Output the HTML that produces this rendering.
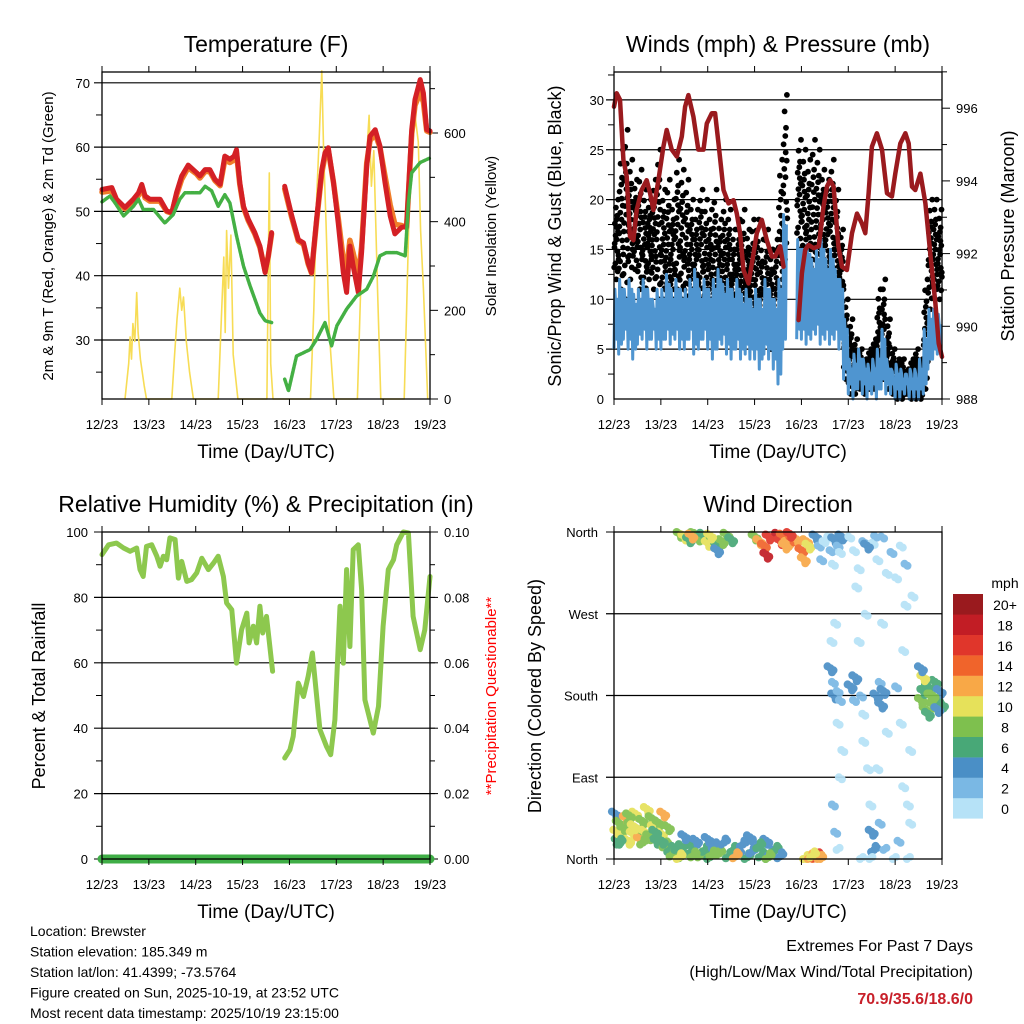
<!DOCTYPE html>
<html><head><meta charset="utf-8">
<style>
html,body{margin:0;padding:0;background:#fff;}
svg{display:block;font-family:"Liberation Sans",Arial,sans-serif;}
</style></head>
<body>
<svg id="fig" width="1024" height="1024" viewBox="0 0 1024 1024" xmlns="http://www.w3.org/2000/svg"></svg>
<script>
// ---------- DATA ----------
// Temperature panel
const tempTimes = [0,.21,.31,.49,.67,.78,.85,.92,1.02,1.24,1.38,1.49,1.59,1.7,1.84,2.02,2.09,2.2,2.3,2.41,2.52,2.62,2.73,2.82,2.87,2.94,3.02,3.12,3.26,3.37,3.48,3.55,3.62,null,3.9,4.05,4.19,4.3,4.4,4.47,4.58,4.69,4.76,4.83,4.94,5.04,5.15,5.22,5.29,5.36,5.47,5.54,5.65,5.72,5.83,5.93,6.04,6.15,6.25,6.39,6.5,6.61,6.68,6.79,6.86,6.93,7.0];
const tempRed = [53.4,53.7,51.9,50.6,51.9,52.9,54.2,52.4,51.9,51.9,50.1,49.8,52.9,55.5,57.2,56.0,55.5,56.5,56.5,55.0,54.2,58.6,58.1,58.6,59.6,54.5,50.8,48.8,46.7,44.6,40.5,43.1,46.7,null,53.9,49.3,45.6,45.1,42.0,40.5,48.8,56.5,59.1,59.9,54.5,48.2,40.5,37.4,44.6,41.5,37.4,43.6,57.0,61.7,62.7,60.2,54.5,49.3,46.5,47.5,47.7,62.7,67.4,70.5,68.4,62.7,62.5];
const tempOrange = [53.0,53.2,51.5,50.4,51.5,52.5,53.8,52.1,51.6,51.6,50.0,49.7,52.5,55.0,56.8,55.8,55.2,56.2,56.2,54.8,54.0,58.0,57.6,58.0,59.0,54.2,50.6,48.6,46.5,44.4,40.8,43.0,46.5,null,53.5,49.0,45.4,44.9,41.8,40.4,48.5,56.0,58.6,59.5,54.5,49.0,42.5,41.0,45.5,43.5,40.0,44.5,57.5,61.0,62.0,60.0,55.5,51.0,48.0,47.8,47.5,62.0,66.5,68.5,67.0,62.5,62.3];
const dewTimes = [0,.17,.28,.46,.67,.78,.88,1.1,1.34,1.52,1.66,1.77,2.09,2.2,2.34,2.48,2.62,2.73,2.87,3.02,3.16,3.37,3.48,3.62,null,3.9,3.98,4.15,4.44,4.58,4.76,4.9,5.01,5.22,5.43,5.65,5.79,5.93,6.07,6.29,6.47,6.54,6.61,6.79,7.0];
const dewValues = [51.5,52.4,51.3,49.3,50.8,51.9,50.3,50.3,48.2,49.5,51.9,52.9,52.9,53.9,53.2,50.8,52.6,51.3,46.2,41.5,38.4,34.2,33.0,32.7,null,23.9,22.1,27.5,28.5,30.1,32.7,29.1,32.2,34.8,36.8,37.9,39.9,43.1,43.6,43.6,43.1,51.3,56.0,57.6,58.3];
const solarTimes = [0.49,0.57,0.6,0.63,0.66,0.7,0.74,0.77,0.82,0.9,0.95,1.49,1.55,1.6,1.66,1.7,1.74,1.8,1.87,1.95,2.48,2.55,2.6,2.63,2.66,2.7,2.75,2.8,2.9,3.52,3.55,3.57,3.6,3.65,4.45,4.52,4.58,4.64,4.69,4.73,4.78,4.85,4.95,5.45,5.52,5.58,5.65,5.7,5.75,5.8,5.88,5.95,6.45,6.5,6.56,6.62,6.68,6.75,6.8,6.86,6.95];
const solarValues = [0,80,140,90,170,130,240,150,90,30,0,0,100,180,250,200,230,130,60,0,0,190,320,150,380,250,370,100,0,0,300,510,80,0,0,200,450,600,740,560,400,150,0,0,250,450,550,640,480,560,250,0,0,200,450,560,640,580,380,250,0];
const tempTicks = [30,40,50,60,70];
const solarTicks = [0,200,400,600];
const dayLabels = ["12/23","13/23","14/23","15/23","16/23","17/23","18/23","19/23"];

// Winds panel (per 0.1 day, null = no data)
const sustLo = [5,4.5,6,5,4,5.5,6,5,6,5, 5,6,5.5,6,5,5,6,4.5,5,6, 5,4,5,5.5,4.5,4,5,4,4.5,4, 4,3,4.5,4,3,1.5, 5,null,null, 6,6,5.5,6,6.5,5.5,6,5.5,6,5, 2, .5,0,1,.5,0,.5,0,1,.5,.5, 0,0,.5,0,0,0,.5,3,4,4.5];
const sustHi = [11,12,11,12,10.5,11,12,11,10,11, 11,12.5,11,12,11,11,12,13,11,12, 11,12,13,11.5,12,11,12,10.5,11,10, 11,10,12,11,10,12, 18.5,null,null, 16,15,15.5,14,15,16,14,15,13,12, 8, 4,4.5,5,4,3.5,4,5,7,4,3, 3.5,3,2.5,3,3,4,7,9,9,8.5];
const gustLo = [12,11,10,12,13,11,10,12,11,10, 10,9,10,11,10,9,10,9,10,8, 9,8,9,8,9,7,8,7,8,6, 7,5,6,5,5,8, 14,null,null, 15,13,12,11,12,13,11,12,10,9, 2, .5,.5,1,.5,1,1,1.5,2,1,.5, 0,0,.5,0,0,0,1,9,10,10];
const gustHi = [20,25,27,24,22,23,21,20,22,25, 21,22,20,24,23,22,20,19,21,20, 19,21,18,20,19,17,18,19,17,18, 18,16,17,15,16,24, 30.5,null,null, 26,25,24,26,25,23,22,24,21,17, 10, 8,6,5,4,5,6,11,12,8,5, 4,4,3,4,5,4,12,20,20,19];
const presTimes = [0,.057,.128,.2,.27,.342,.413,.484,.59,.698,.77,.84,.947,1.054,1.125,1.232,1.34,1.446,1.517,1.588,1.695,1.8,1.91,1.98,2.087,2.158,2.23,2.336,2.443,2.55,2.62,2.692,2.763,2.87,2.977,3.048,3.155,3.26,3.37,3.44,3.547,3.618,null,3.94,4.01,4.08,4.15,4.26,4.37,4.47,4.544,4.615,4.686,4.79,4.865,4.97,5.08,5.185,5.29,5.363,5.434,5.505,5.61,5.72,5.826,5.93,6.004,6.11,6.218,6.29,6.36,6.43,6.54,6.645,6.75,6.86,6.93,7.0];
const presValues = [996.04,996.41,996.23,994.58,994.12,992.47,992.37,993.2,993.75,994.02,993.66,993.2,994.02,994.94,995.4,994.86,994.67,995.22,996.04,996.36,995.77,994.86,994.86,995.58,995.86,995.86,995.03,993.75,993.38,993.47,993.1,992.56,991.55,991.18,992.0,992.56,992.93,992.37,991.92,991.92,992.2,991.64,null,990.17,991.46,992.1,992.24,992.15,992.2,993.29,993.84,994.02,993.84,992.2,991.64,991.55,992.56,993.1,992.83,992.56,993.66,994.94,995.31,994.86,993.66,993.57,994.2,995.03,995.31,995.03,993.84,993.75,994.2,993.38,992.0,990.63,989.53,989.16];
const windTicks = [0,5,10,15,20,25,30];
const presTicks = [988,990,992,994,996];

// Humidity panel
const rhTimes = [0,.14,.31,.46,.6,.74,.81,.88,.95,1.06,1.17,1.24,1.31,1.38,1.45,1.56,1.63,1.7,1.81,1.91,2.02,2.13,2.27,2.38,2.48,2.59,2.66,2.77,2.87,2.98,3.09,3.14,3.23,3.3,3.37,3.43,3.51,3.64,null,3.9,4.01,4.08,4.19,4.3,4.4,4.49,4.65,4.79,4.88,4.97,5.08,5.15,5.22,5.29,5.36,5.47,5.54,5.61,5.79,5.9,6.0,6.11,6.22,6.29,6.43,6.54,6.64,6.79,6.89,7.0];
const rhValues = [93.1,96.1,96.6,95.1,94.1,95.1,88.5,86.4,95.6,96.1,92.6,89.5,92.6,91.5,98.2,97.7,85.9,91.0,84.9,85.4,87.5,92.0,88.5,90.5,92.6,86.4,78.3,76.2,59.9,70.1,75.2,66.1,71.2,66.1,77.3,69.1,74.2,57.4,null,30.9,33.4,37.5,53.8,49.7,55.9,63.0,39.6,34.5,31.9,42.6,77.3,59.9,88.5,65.0,94.6,96.1,82.4,48.7,38.5,46.7,71.2,88.5,91.5,96.1,100,99.7,74.2,64.0,70.1,86.4];
const precipTimes = [0,7];
const precipValues = [0,0];
const rhTicks = [0,20,40,60,80,100];
const precipTicks = ["0.00","0.02","0.04","0.06","0.08","0.10"];

// Wind direction panel: [day, direction deg, speed mph]
const dirObs = [
[0.02,50,4],[0.05,30,10],[0.08,20,6],[0.1,40,9],[0.15,25,11],[0.2,35,8],[0.25,45,12],[0.3,20,10],[0.35,38,9],[0.4,28,11],[0.45,50,10],[0.5,33,8],[0.55,22,12],[0.6,42,9],[0.65,30,10],[0.7,55,11],[0.75,25,9],[0.8,45,8],[0.85,35,10],[0.9,20,7],[0.95,40,9],[1.0,28,10],[1.05,50,12],[1.1,15,8],[1.15,35,9],[1.2,10,7],[0.12,18,7],[0.32,48,8],[0.62,18,8],[0.88,30,6],[1.02,20,6],[0.42,36,10],
[1.25,5,8],[1.35,12,6],[1.45,3,9],[1.55,15,7],[1.65,8,6],[1.75,20,5],[1.85,4,8],[1.95,10,6],[2.05,2,7],[2.15,14,5],[2.25,6,8],[2.35,18,4],[2.45,3,6],[2.55,10,7],[2.65,5,5],[2.75,16,4],[2.85,2,6],[2.95,8,5],[3.05,12,4],[3.15,4,6],[3.25,20,5],[3.35,6,4],[3.45,10,6],[3.55,3,5],[1.5,25,4],[2.0,22,5],[2.9,24,4],[1.4,2,10],[1.7,4,9],[2.1,5,8],[2.6,3,12],[3.1,14,6],[3.3,2,7],
[1.4,358,8],[1.5,355,10],[1.6,352,7],[1.7,359,9],[1.8,354,8],[1.9,357,7],[2.0,348,10],[2.1,353,8],[2.2,346,6],[2.3,350,9],[2.4,357,8],[2.5,352,7],[2.2,340,4],[2.05,356,10],[1.65,356,12],
[3.0,355,9],[3.1,350,12],[3.2,345,14],[3.25,335,18],[3.3,355,16],[3.5,357,18],[3.55,350,16],[3.6,356,14],[3.7,348,12],[3.8,353,14],[3.9,352,12],[4.0,340,14],[4.05,330,13],[4.1,350,12],[4.15,345,10],[3.65,345,12],[3.75,358,16],
[4.1,0,10],[4.2,2,12],[4.3,1,14],[4.35,3,16],[4.4,0,12],[4.25,4,10],[3.3,2,8],
[4.3,355,4],[4.35,345,3],[4.4,330,2],[4.45,350,1],[4.55,355,0],[4.6,340,2],[4.65,325,1],[4.7,352,4],[4.75,345,3],[4.8,338,0],[4.85,355,5],
[4.65,195,3],[4.7,180,4],[4.75,185,3],[4.8,175,2],[4.7,260,1],[4.62,240,0],[4.75,150,1],[4.8,90,0],[4.65,60,2],[4.7,30,3],[4.75,10,1],[4.85,120,1],[4.62,210,4],
[5.0,355,0],[5.1,340,1],[5.2,320,0],[5.3,350,2],[5.5,348,0],[5.6,330,1],[5.7,355,3],[5.8,315,0],[5.9,338,2],[6.0,310,1],[6.1,345,0],[6.2,325,3],[5.4,345,4],[5.55,356,3],[5.15,300,0],
[5.05,190,4],[5.1,175,3],[5.15,200,4],[5.25,180,2],[5.3,160,1],[5.2,240,0],[5.35,270,0],[5.3,130,1],[5.4,100,0],[5.45,60,1],[5.5,30,4],[5.55,10,4],[5.45,0,0],[5.6,180,4],[5.65,195,3],[5.7,170,5],[5.75,185,4],[5.8,140,1],[5.7,260,0],[5.6,100,1],[5.65,40,3],[5.75,10,2],[6.0,190,2],[6.1,150,1],[6.15,230,0],[6.2,280,1],[6.25,60,0],[6.05,20,2],[6.3,120,1],[6.15,80,0],[6.3,40,0],[6.35,290,1],[6.25,0,0],[5.95,0,1],[5.25,0,1],
[6.55,175,8],[6.6,185,6],[6.65,165,9],[6.7,190,7],[6.75,180,8],[6.8,170,8],[6.85,195,6],[6.9,175,7],[6.95,185,5],[7.0,170,6],[6.6,200,11],[6.55,210,4],[6.7,160,6],[6.8,180,9],[6.9,165,4]
];
const speedColors = ['#b6e2f7','#7ab8e4','#4a8fc6','#48a877','#7ec04e','#e6e15a','#f8a847','#f0642b','#e0362b','#c21d25','#9a1a1e'];
const speedLabels = ['0','2','4','6','8','10','12','14','16','18','20+'];
const dirLabels = ['North','East','South','West','North'];

// ---------- DRAWING ----------
const NS='http://www.w3.org/2000/svg';
const svg=document.getElementById('fig');
function mk(tag,parent){const e=document.createElementNS(NS,tag);(parent||svg).appendChild(e);return e;}
function attrs(e,o){for(const k in o)e.setAttribute(k,o[k]);return e;}
function txt(parent,x,y,s,size,anchor,extra){const t=mk('text',parent);attrs(t,{x:x,y:y,'font-size':size,'text-anchor':anchor||'middle'});if(extra)attrs(t,extra);t.textContent=s;return t;}
function linePath(xs,ys,fx,fy){let d='',pen=false;for(let i=0;i<xs.length;i++){if(xs[i]===null||ys[i]===null){pen=false;continue;}d+=(pen?'L':'M')+fx(xs[i]).toFixed(1)+','+fy(ys[i]).toFixed(1);pen=true;}return d;}

function panel(name,x0,y0,x1,y1){
  const g=mk('g');
  
  
  return {g,x0,y0,x1,y1,X:t=>x0+t/7*(x1-x0)};
}
function xAxis(p){
  const g=mk('g',p.g);
  
  
  dayLabels.forEach((s,i)=>{
    const x=p.X(i);
    attrs(mk('line',g),{x1:x,x2:x,y1:p.y1,y2:p.y1+6,stroke:'#000','stroke-width':1});
    attrs(mk('line',g),{x1:x,x2:x,y1:p.y0,y2:p.y0-6,stroke:'#000','stroke-width':1});
    const t=txt(g,x,p.y1+30,s,13);
    
    
  });
  const tt=txt(g,(p.x0+p.x1)/2,p.y1+59,'Time (Day/UTC)',19);
  
  
}
function frame(p){
  const r=mk('rect',p.g);
  attrs(r,{x:p.x0,y:p.y0,width:p.x1-p.x0,height:p.y1-p.y0,fill:'none',stroke:'#000','stroke-width':1.3});
  
  
}
function title(p,s){
  const t=txt(p.g,(p.x0+p.x1)/2,p.y0-20,s,23);
  
  
}
function vtitle(p,x,y,s,size,color){
  const t=txt(p.g,x,y,s,size,'middle',{transform:`rotate(-90 ${x} ${y})`,fill:color||'#000'});
  
  
  return t;
}

// ===== Panel 1: Temperature =====
const p1=panel('temperature-panel',102,72,430,399);
const tY=v=>340-(v-30)*6.43;
const sY=v=>399-v*(266/600);
title(p1,'Temperature (F)');
tempTicks.forEach(v=>{
  attrs(mk('line',p1.g),{x1:p1.x0-8,x2:p1.x1,y1:tY(v),y2:tY(v),stroke:'#000','stroke-width':1.2});
  const t=txt(p1.g,p1.x0-12,tY(v)+5,String(v),13,'end');
  
  
});
for(let v=25;v<=70;v+=10){attrs(mk('line',p1.g),{x1:p1.x0-6,x2:p1.x0,y1:tY(v),y2:tY(v),stroke:'#000'});}
solarTicks.forEach(v=>{
  attrs(mk('line',p1.g),{x1:p1.x1,x2:p1.x1+8,y1:sY(v),y2:sY(v),stroke:'#000'});
  const t=txt(p1.g,p1.x1+14,sY(v)+5,String(v),13,'start');
  
  
});
for(let v=100;v<=700;v+=200){attrs(mk('line',p1.g),{x1:p1.x1,x2:p1.x1+5,y1:sY(v),y2:sY(v),stroke:'#000'});}
const solar=mk('path',p1.g);
attrs(solar,{d:linePath(solarTimes,solarValues,p1.X,sY),fill:'none',stroke:'#f7dc55','stroke-width':1.6,'stroke-linejoin':'round'});


const orange=mk('path',p1.g);
attrs(orange,{d:linePath(tempTimes,tempOrange,p1.X,tY),fill:'none',stroke:'#f07d2a','stroke-width':5.5,'stroke-linejoin':'round','stroke-linecap':'round'});


const red=mk('path',p1.g);
attrs(red,{d:linePath(tempTimes,tempRed,p1.X,tY),fill:'none',stroke:'#d42025','stroke-width':5,'stroke-linejoin':'round','stroke-linecap':'round'});


const dew=mk('path',p1.g);
attrs(dew,{d:linePath(dewTimes,dewValues,p1.X,tY),fill:'none',stroke:'#44b044','stroke-width':3.5,'stroke-linejoin':'round','stroke-linecap':'round','stroke-dasharray':'3 1.2'});


frame(p1);xAxis(p1);
vtitle(p1,53,236,'2m & 9m T (Red, Orange) & 2m Td (Green)',15);
vtitle(p1,496,236,'Solar Insolation (Yellow)',15);

// ===== Panel 2: Winds =====
const p2=panel('winds-panel',614,72,942,399);
const wY=v=>399-v*9.97;
const pY=v=>399-(v-988)*36.35;
title(p2,'Winds (mph) & Pressure (mb)');
windTicks.forEach(v=>{
  if(v>0)attrs(mk('line',p2.g),{x1:p2.x0-8,x2:p2.x1,y1:wY(v),y2:wY(v),stroke:'#000','stroke-width':1.2});
  const t=txt(p2.g,p2.x0-10,wY(v)+5,String(v),13,'end');
  
  
});
for(let v=2.5;v<33;v+=5){attrs(mk('line',p2.g),{x1:p2.x0-6,x2:p2.x0,y1:wY(v),y2:wY(v),stroke:'#000'});}
presTicks.forEach(v=>{
  attrs(mk('line',p2.g),{x1:p2.x1,x2:p2.x1+8,y1:pY(v),y2:pY(v),stroke:'#000'});
  const t=txt(p2.g,p2.x1+14,pY(v)+5,String(v),13,'start');
  
  
});
for(let v=989;v<=997;v+=2){attrs(mk('line',p2.g),{x1:p2.x1,x2:p2.x1+5,y1:pY(v),y2:pY(v),stroke:'#000'});}
const gustG=mk('g',p2.g);


const fr=[0,0.1,0.2,0.3,0.4,0.5,0.6,0.7,0.8,0.9,1,0.15,0.35,0.55,0.75,0.25,0.45,0.65];
const off=[0,0.03,-0.02,0.045,-0.04,0.01,0.035,-0.03,0.02,-0.01,0.04,-0.045,0.025,-0.015,0.005,0.048,-0.035,0.015];
for(let i=0;i<gustLo.length;i++){
  if(gustLo[i]===null)continue;
  for(let k=0;k<fr.length;k++){
    const v=gustLo[i]+(gustHi[i]-gustLo[i])*fr[k];
    const c=mk('circle',gustG);
    attrs(c,{cx:p2.X(i/10+off[k]+0.05).toFixed(1),cy:wY(v).toFixed(1),r:2.9,fill:'#000'});
  }
}
let sd='';let pen=false;
for(let i=0;i<sustLo.length;i++){
  if(sustLo[i]===null){pen=false;continue;}
  const q=[sustLo[i],sustHi[i],(sustLo[i]+sustHi[i])/2+1,sustLo[i]+1,sustHi[i]-1];
  for(let k=0;k<q.length;k++){
    sd+=(pen?'L':'M')+p2.X(i/10+k*0.02).toFixed(1)+','+wY(q[k]).toFixed(1);pen=true;
  }
}
const sust=mk('path',p2.g);
attrs(sust,{d:sd,fill:'none',stroke:'#4f95d0','stroke-width':3,'stroke-linejoin':'round'});


const pres=mk('path',p2.g);
attrs(pres,{d:linePath(presTimes,presValues,p2.X,pY),fill:'none',stroke:'#9a1a1e','stroke-width':4.5,'stroke-linejoin':'round','stroke-linecap':'round'});


frame(p2);xAxis(p2);
vtitle(p2,561,236,'Sonic/Prop Wind & Gust (Blue, Black)',18);
vtitle(p2,1014,236,'Station Pressure (Maroon)',18);

// ===== Panel 3: Humidity =====
const p3=panel('humidity-panel',102,532,430,859);
const hY=v=>859-v*3.27;
title(p3,'Relative Humidity (%) & Precipitation (in)');
rhTicks.forEach((v,i)=>{
  if(v>0&&v<100)attrs(mk('line',p3.g),{x1:p3.x0-8,x2:p3.x1,y1:hY(v),y2:hY(v),stroke:'#000','stroke-width':1.2});
  else attrs(mk('line',p3.g),{x1:p3.x0-8,x2:p3.x0,y1:hY(v),y2:hY(v),stroke:'#000'});
  const t=txt(p3.g,p3.x0-14,hY(v)+5,String(v),13,'end');
  
  
  attrs(mk('line',p3.g),{x1:p3.x1,x2:p3.x1+8,y1:hY(v),y2:hY(v),stroke:'#000'});
  const r=txt(p3.g,p3.x1+14,hY(v)+5,precipTicks[i],13,'start');
  
  
});
for(let v=10;v<100;v+=10){if(v%20){attrs(mk('line',p3.g),{x1:p3.x0-6,x2:p3.x0,y1:hY(v),y2:hY(v),stroke:'#000'});}attrs(mk('line',p3.g),{x1:p3.x1,x2:p3.x1+5,y1:hY(v),y2:hY(v),stroke:'#000'});}
const rh=mk('path',p3.g);
attrs(rh,{d:linePath(rhTimes,rhValues,p3.X,hY),fill:'none',stroke:'#8dc84e','stroke-width':5,'stroke-linejoin':'round','stroke-linecap':'round'});


const pr=mk('path',p3.g);
attrs(pr,{d:linePath(precipTimes,precipValues,p3.X,v=>859-v*3270),fill:'none',stroke:'#3fae46','stroke-width':9,'stroke-linecap':'round'});


frame(p3);xAxis(p3);
vtitle(p3,45,696,'Percent & Total Rainfall',18);
vtitle(p3,496,696,'**Precipitation Questionable**',15,'#ff0000');

// ===== Panel 4: Wind Direction =====
const p4=panel('wind-direction-panel',614,532,942,859);
const dY=v=>859-v*(327/360);
title(p4,'Wind Direction');
dirLabels.forEach((s,i)=>{
  const v=i*90;
  if(i>0&&i<4)attrs(mk('line',p4.g),{x1:p4.x0-8,x2:p4.x1,y1:dY(v),y2:dY(v),stroke:'#000','stroke-width':1.2});
  else attrs(mk('line',p4.g),{x1:p4.x0-8,x2:p4.x0,y1:dY(v),y2:dY(v),stroke:'#000'});
  const t=txt(p4.g,p4.x0-16,dY(v)+5,s,13,'end');
  
  
});
const dg=mk('g',p4.g);


dg.setAttribute('opacity','0.92');
const jx=[0,3,-3,1.5];
const jy=[0,2,-2,4];
dirObs.forEach(o=>{
  const b=Math.max(0,Math.min(10,Math.floor(o[2]/2)));
  const reps=o[2]>=4?4:2;
  for(let k=0;k<reps;k++){
    const c=mk('circle',dg);
    const cy=Math.min(859,Math.max(532,dY(o[1])+jy[k]*(o[1]<20?-1:1)));
    attrs(c,{cx:(p4.X(o[0])+jx[k]).toFixed(1),cy:cy.toFixed(1),r:4,fill:speedColors[b]});
  }
});
frame(p4);xAxis(p4);
vtitle(p4,541,696,'Direction (Colored By Speed)',18);
const lg=mk('g');


txt(lg,1005,588,'mph',14);
speedColors.forEach((c,i)=>{
  const y=798-i*20.4;
  const r=mk('rect',lg);
  attrs(r,{x:953,y:y,width:30,height:20.6,fill:c});
  
  
  const t=txt(lg,1005,y+16,speedLabels[i],14);
  
  
});

// ===== Footer text =====
const info=['Location: Brewster','Station elevation: 185.349 m','Station lat/lon: 41.4399; -73.5764','Figure created on Sun, 2025-10-19, at 23:52 UTC','Most recent data timestamp: 2025/10/19 23:15:00'];
const ig=mk('g');


info.forEach((s,i)=>{txt(ig,30,936+i*20.5,s,14,'start');});
const eg=mk('g');


txt(eg,973,951,'Extremes For Past 7 Days',16,'end');
txt(eg,973,977,'(High/Low/Max Wind/Total Precipitation)',16,'end');
txt(eg,973,1004,'70.9/35.6/18.6/0',16,'end',{fill:'#c8202a','font-weight':'bold'});
</script>
</body></html>
